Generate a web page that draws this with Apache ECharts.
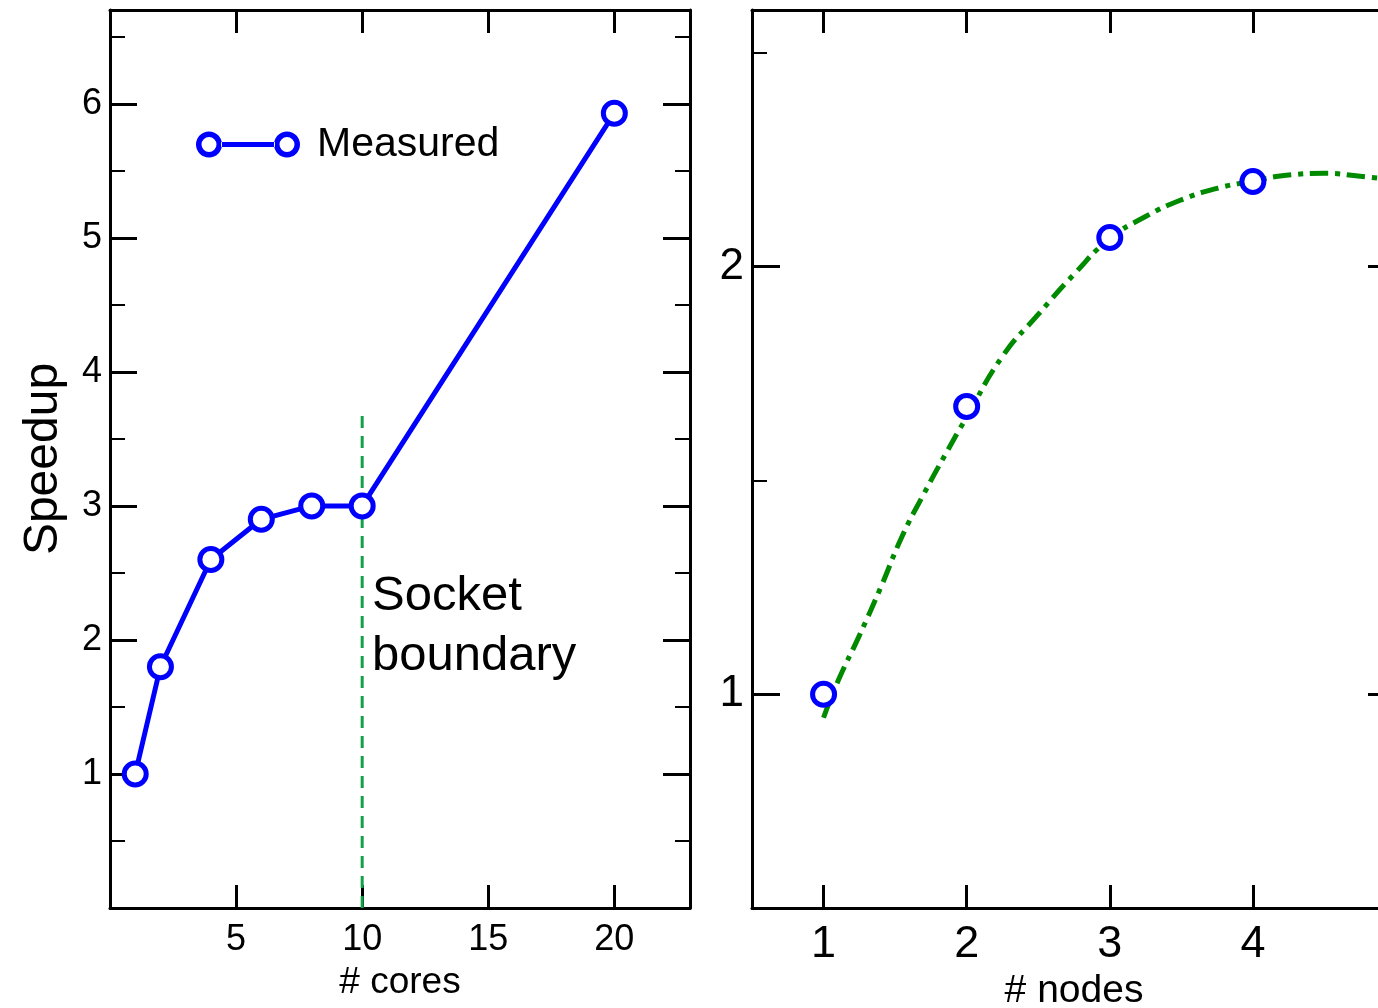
<!DOCTYPE html>
<html>
<head>
<meta charset="utf-8">
<style>
html,body{margin:0;padding:0;background:#fff;overflow:hidden;width:1378px;height:1008px;}
#chart{width:1400px;height:1008px;}
</style>
<script src="https://cdn.jsdelivr.net/npm/echarts@6/dist/echarts.min.js"></script>
</head>
<body>
<div id="chart"></div>
<script>
// ---- data ----
const coresX = [1, 2, 4, 6, 8, 10, 20];
const coresSpeedup = [1.0, 1.8, 2.6, 2.9, 3.0, 3.0, 5.93];
const socketX = [10, 10];
const socketY = [0, 3.7];
const nodesX = [1, 2, 3, 4];
const nodesSpeedup = [1.0, 1.673, 2.068, 2.199];
const fitX = [1.0, 1.1, 1.25, 1.4, 1.55, 1.7, 1.85, 2.0, 2.25, 2.5, 2.75, 3.0, 3.25, 3.5, 3.75, 4.0, 4.25, 4.5, 4.75, 5.0];
const fitY = [0.945, 1.03, 1.137, 1.25, 1.37, 1.468, 1.56, 1.648, 1.79, 1.888, 1.982, 2.065, 2.117, 2.156, 2.183, 2.2, 2.214, 2.218, 2.211, 2.203];
const coresTicks = [5, 10, 15, 20];
const speedupTicks = [1, 2, 3, 4, 5, 6];
const speedupMinor = [0.5, 1.5, 2.5, 3.5, 4.5, 5.5, 6.5];
const nodesTicks = [1, 2, 3, 4];
const nodesYTicks = [1, 2];
const nodesYMinor = [1.5, 2.5];

const FONT = "'Liberation Sans', Arial, Helvetica, sans-serif";
const zip = (a, b) => a.map((v, i) => [v, b[i]]);

function xAx(grid, pos, min, max, ticks, labelSize, name, nameGap, nameSize) {
  const showLabel = pos === 'bottom';
  return {
    type: 'value', gridIndex: grid, position: pos, min: min, max: max,
    splitLine: {show: false},
    axisLine: {show: true, onZero: false, lineStyle: {color: '#000', width: 3}},
    axisTick: {show: true, inside: true, length: 23, lineStyle: {color: '#000', width: 3}, customValues: ticks},
    axisLabel: {show: showLabel, customValues: ticks, margin: 14, color: '#000', fontSize: labelSize, fontFamily: FONT},
    name: showLabel ? name : '', nameLocation: 'middle', nameGap: nameGap,
    nameTextStyle: {color: '#000', fontSize: nameSize, fontFamily: FONT}
  };
}
function yAx(grid, pos, min, max, ticks, tickLen, tickW, labelSize, showLine, name, nameGap) {
  const showLabel = pos === 'left' && labelSize > 0;
  return {
    type: 'value', gridIndex: grid, position: pos, min: min, max: max,
    splitLine: {show: false},
    axisLine: {show: showLine, onZero: false, lineStyle: {color: '#000', width: 3}},
    axisTick: {show: true, inside: true, length: tickLen, lineStyle: {color: '#000', width: tickW}, customValues: ticks},
    axisLabel: {show: showLabel, customValues: ticks, margin: 8, color: '#000', fontSize: labelSize || 12, fontFamily: FONT},
    name: name || '', nameLocation: 'middle', nameGap: nameGap || 0,
    nameTextStyle: {color: '#000', fontSize: 48, fontFamily: FONT}
  };
}

const legendIcon = 'path://' +
  'M0,13A13,13,0,1,0,26,13A13,13,0,1,0,0,13Z' +
  'M5.5,13A7.5,7.5,0,1,1,20.5,13A7.5,7.5,0,1,1,5.5,13Z' +
  'M25,10.5L79,10.5L79,15.5L25,15.5Z' +
  'M78,13A13,13,0,1,0,104,13A13,13,0,1,0,78,13Z' +
  'M83.5,13A7.5,7.5,0,1,1,98.5,13A7.5,7.5,0,1,1,83.5,13Z';

const chart = echarts.init(document.getElementById('chart'), null, {renderer: 'canvas', width: 1400, height: 1008});
chart.setOption({
  animation: false,
  backgroundColor: '#fff',
  grid: [
    {left: 110, top: 10, width: 580, height: 898, containLabel: false, outerBoundsMode: 'none'},
    {left: 752, top: 10, width: 644, height: 898, containLabel: false, outerBoundsMode: 'none'}
  ],
  legend: {
    left: 196, top: 124, padding: 0, itemWidth: 104, itemHeight: 26,
    data: [{name: 'Measured', icon: legendIcon}],
    itemStyle: {color: '#0000ff', borderWidth: 0},
    textStyle: {color: '#000', fontSize: 41, fontFamily: FONT, padding: [0, 0, 0, 12]},
    selectedMode: false
  },
  xAxis: [
    xAx(0, 'bottom', 0, 23, coresTicks, 36, '# cores', 56, 37),
    xAx(0, 'top', 0, 23, coresTicks, 36),
    xAx(1, 'bottom', 0.5, 5.0, nodesTicks, 45, '# nodes', 63, 39),
    xAx(1, 'top', 0.5, 5.0, nodesTicks, 45)
  ],
  yAxis: [
    yAx(0, 'left', 0, 6.7, speedupTicks, 27, 3, 36, true, 'Speedup', 42),
    yAx(0, 'right', 0, 6.7, speedupTicks, 27, 3, 0, true),
    yAx(0, 'left', 0, 6.7, speedupMinor, 15, 2, 0, false),
    yAx(0, 'right', 0, 6.7, speedupMinor, 15, 2, 0, false),
    yAx(1, 'left', 0.5, 2.6, nodesYTicks, 28, 3, 44, true),
    yAx(1, 'right', 0.5, 2.6, nodesYTicks, 28, 3, 0, true),
    yAx(1, 'left', 0.5, 2.6, nodesYMinor, 15, 2, 0, false),
    yAx(1, 'right', 0.5, 2.6, nodesYMinor, 15, 2, 0, false)
  ],
  series: [
    {
      name: 'Socket boundary', type: 'line', xAxisIndex: 0, yAxisIndex: 0,
      data: zip(socketX, socketY), symbol: 'none', silent: true,
      lineStyle: {color: '#12a048', width: 3, type: [12, 8]}, z: 1
    },
    {
      name: 'Measured', type: 'line', xAxisIndex: 0, yAxisIndex: 0,
      data: zip(coresX, coresSpeedup),
      symbol: 'circle', symbolSize: 22, showAllSymbol: true,
      lineStyle: {color: '#0000ff', width: 5},
      itemStyle: {color: '#ffffff', borderColor: '#0000ff', borderWidth: 5},
      z: 3
    },
    {
      name: 'Fit', type: 'line', xAxisIndex: 2, yAxisIndex: 4,
      data: zip(fitX, fitY), smooth: true, symbol: 'none', silent: true,
      lineStyle: {color: '#008a00', width: 5, type: [18, 7, 5, 7]}, z: 2
    },
    {
      name: 'Measured nodes', type: 'line', xAxisIndex: 2, yAxisIndex: 4,
      data: zip(nodesX, nodesSpeedup),
      symbol: 'circle', symbolSize: 22,
      lineStyle: {width: 0, opacity: 0},
      itemStyle: {color: '#ffffff', borderColor: '#0000ff', borderWidth: 5},
      z: 3
    }
  ],
  graphic: [
    {
      type: 'text', left: 372, top: 566, z: 10,
      style: {text: 'Socket\nboundary', fill: '#000', font: '49px ' + FONT, lineHeight: 60}
    }
  ]
});
</script>
</body>
</html>
